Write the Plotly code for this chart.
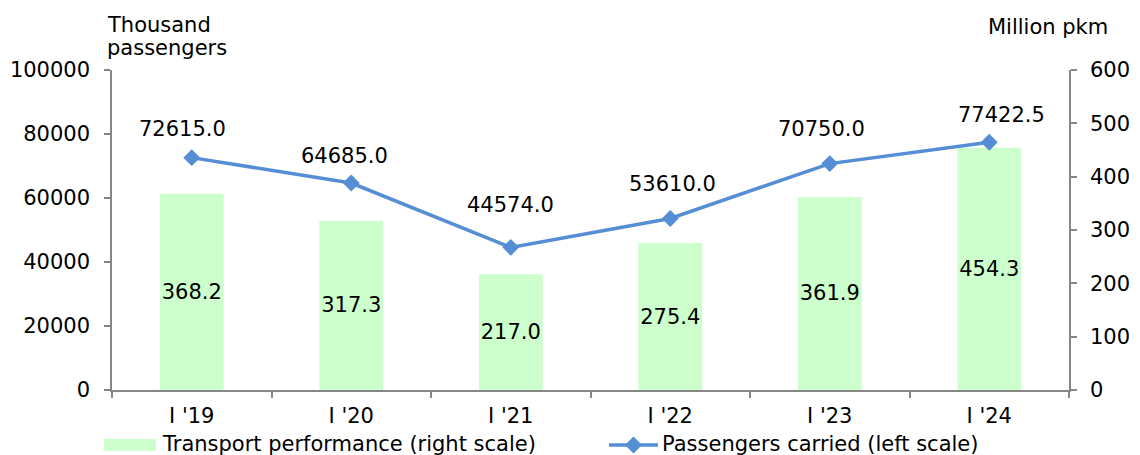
import plotly.graph_objects as go

categories = ["I '19", "I '20", "I '21", "I '22", "I '23", "I '24"]
transport_performance = [368.2, 317.3, 217.0, 275.4, 361.9, 454.3]   # million pkm (right scale)
passengers_carried = [72615.0, 64685.0, 44574.0, 53610.0, 70750.0, 77422.5]  # thousand (left scale)

# label offsets (styling only, px)
label_xshift = [-9, -7, 0, 2, -8, 12]
label_yshift = [29, 27, 42, 34, 35, 27]

FONT = "Verdana, DejaVu Sans, sans-serif"
FS = 21
BAR_COLOR = "#CCFFCC"
LINE_COLOR = "#558ED5"
AXIS_COLOR = "#868686"

L, R, T, B = 112, 71, 70, 65
W, H = 1140, 455
PW, PH = W - L - R, H - T - B


def px_x(px):
    return (px - L) / PW


def px_y(py):
    return (H - B - py) / PH


fig = go.Figure()

fig.add_trace(go.Bar(
    x=categories, y=transport_performance,
    marker=dict(color=BAR_COLOR, line=dict(width=0)),
    width=0.4,
    text=[f"{v:.1f}" for v in transport_performance],
    textposition="inside", insidetextanchor="middle",
    constraintext="none", textangle=0,
    textfont=dict(family=FONT, size=FS, color="black"),
    yaxis="y", showlegend=False, hoverinfo="skip",
))

fig.add_trace(go.Scatter(
    x=categories, y=passengers_carried,
    mode="lines+markers",
    line=dict(color=LINE_COLOR, width=3.5),
    marker=dict(symbol="diamond", size=13, color=LINE_COLOR),
    yaxis="y2", showlegend=False, hoverinfo="skip",
))

annotations = []
for c, v, dx, dy in zip(categories, passengers_carried, label_xshift, label_yshift):
    annotations.append(dict(
        x=c, y=v, xref="x", yref="y2", text=f"{v:.1f}", showarrow=False,
        xshift=dx, yshift=dy, xanchor="center", yanchor="middle",
        font=dict(family=FONT, size=FS, color="black"),
    ))

# axis titles
annotations += [
    dict(x=px_x(105), y=px_y(25), xref="paper", yref="paper", text="Thousand",
         showarrow=False, xanchor="left", yanchor="middle",
         font=dict(family=FONT, size=FS, color="black")),
    dict(x=px_x(105), y=px_y(48), xref="paper", yref="paper", text="passengers",
         showarrow=False, xanchor="left", yanchor="middle",
         font=dict(family=FONT, size=FS, color="black")),
    dict(x=px_x(986), y=px_y(27), xref="paper", yref="paper", text="Million pkm",
         showarrow=False, xanchor="left", yanchor="middle",
         font=dict(family=FONT, size=FS, color="black")),
]

# manual legend
annotations += [
    dict(x=px_x(160), y=px_y(444), xref="paper", yref="paper",
         text="Transport performance (right scale)", showarrow=False,
         xanchor="left", yanchor="middle", font=dict(family=FONT, size=FS, color="black")),
    dict(x=px_x(660), y=px_y(444), xref="paper", yref="paper",
         text="Passengers carried (left scale)", showarrow=False,
         xanchor="left", yanchor="middle", font=dict(family=FONT, size=FS, color="black")),
]

dx_d = 8.5 / PW
dy_d = 8.5 / PH
cx, cy = px_x(633.5), px_y(445)
shapes = [
    dict(type="rect", xref="paper", yref="paper",
         x0=px_x(104), x1=px_x(156), y0=px_y(439), y1=px_y(451),
         fillcolor=BAR_COLOR, line=dict(width=0)),
    dict(type="line", xref="paper", yref="paper",
         x0=px_x(609), x1=px_x(658), y0=cy, y1=cy,
         line=dict(color=LINE_COLOR, width=3.5)),
    dict(type="path", xref="paper", yref="paper",
         path=f"M {cx - dx_d},{cy} L {cx},{cy + dy_d} L {cx + dx_d},{cy} L {cx},{cy - dy_d} Z",
         fillcolor=LINE_COLOR, line=dict(width=0)),
]

fig.update_layout(
    template="none",
    width=W, height=H,
    margin=dict(l=L, r=R, t=T, b=B, pad=0, autoexpand=False),
    paper_bgcolor="white", plot_bgcolor="white",
    font=dict(family=FONT, size=FS, color="black"),
    bargap=0.6,
    xaxis=dict(
        type="category", range=[-0.5, 5.5], automargin=False,
        showline=True, linecolor=AXIS_COLOR, linewidth=1.5,
        ticks="outside", tickson="boundaries", ticklen=6, tickcolor=AXIS_COLOR, tickwidth=1.5,
        showgrid=False, zeroline=False,
        tickfont=dict(family=FONT, size=FS, color="black"),
        ticklabelstandoff=6,
    ),
    yaxis=dict(
        side="right", range=[0, 600], dtick=100, automargin=False,
        showline=True, linecolor=AXIS_COLOR, linewidth=1.5,
        ticks="outside", ticklen=6, tickcolor=AXIS_COLOR, tickwidth=1.5,
        showgrid=False, zeroline=False,
        tickfont=dict(family=FONT, size=FS, color="black"),
        ticklabelstandoff=9,
    ),
    yaxis2=dict(
        side="left", overlaying="y", range=[0, 100000], dtick=20000, tickformat="d",
        automargin=False,
        showline=True, linecolor=AXIS_COLOR, linewidth=1.5,
        ticks="outside", ticklen=6, tickcolor=AXIS_COLOR, tickwidth=1.5,
        showgrid=False, zeroline=False,
        tickfont=dict(family=FONT, size=FS, color="black"),
        ticklabelstandoff=10,
    ),
    annotations=annotations,
    shapes=shapes,
)

fig.write_html(
    "out.html",
    config={"displayModeBar": False},
    post_script="document.body.style.margin='0px';document.body.style.overflow='hidden';",
)
